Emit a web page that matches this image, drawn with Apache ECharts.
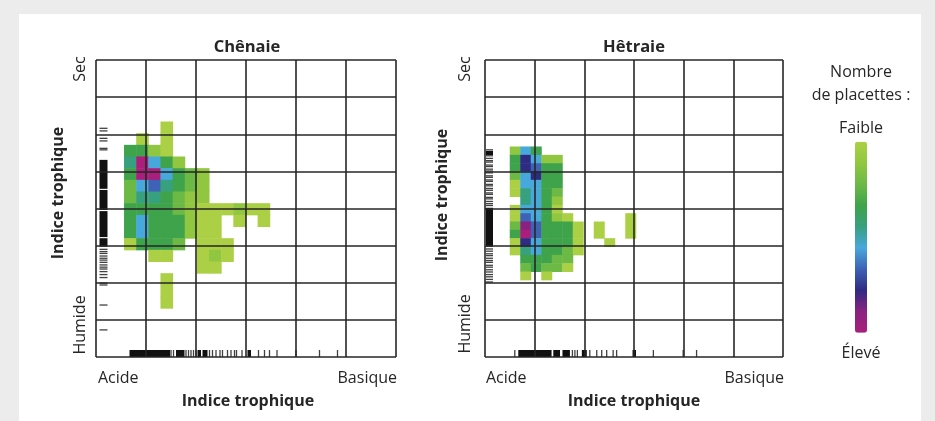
<!DOCTYPE html>
<html><head><meta charset="utf-8">
<script src="https://cdn.jsdelivr.net/npm/echarts@6/dist/echarts.min.js"></script>
<style>
html,body{margin:0;padding:0;background:#ececec;width:935px;height:421px;overflow:hidden;}
#panel{position:absolute;left:19px;top:14px;width:902px;height:410px;background:#fff;}
#c{position:absolute;left:0;top:0;width:935px;height:421px;}
</style>
</head><body><div id="panel"></div><div id="c"></div>
<script>
// ---- data ----
const panelTitles = ['Chênaie', 'Hêtraie'];
const xEndLabels = ['Acide', 'Basique'];
const yEndLabels = ['Sec', 'Humide'];
const axisTitle = 'Indice trophique';
const legendTitle = ['Nombre', 'de placettes :'];
const legendEnds = ['Faible', 'Élevé'];

// heatmap cells: [column, row (from top), level 1=faible .. 10=élevé]
const chenaieCells = [
  [5,5,1],
  [3,6,1],[5,6,1],
  [2,7,4],[3,7,4],[4,7,2],[5,7,1],
  [2,8,5],[3,8,10],[4,8,6],[5,8,4],[6,8,2],
  [2,9,4],[3,9,10],[4,9,10],[5,9,6],[6,9,4],[7,9,3],[8,9,2],
  [2,10,3],[3,10,6],[4,10,7],[5,10,5],[6,10,4],[7,10,3],[8,10,2],
  [2,11,3],[3,11,5],[4,11,5],[5,11,4],[6,11,3],[7,11,2],[8,11,2],
  [2,12,4],[3,12,4],[4,12,4],[5,12,4],[6,12,3],[7,12,2],[8,12,1],[9,12,1],[10,12,1],[11,12,2],[12,12,1],[13,12,1],
  [2,13,4],[3,13,6],[4,13,4],[5,13,4],[6,13,4],[7,13,2],[8,13,1],[9,13,1],[11,13,1],[13,13,1],
  [2,14,4],[3,14,6],[4,14,4],[5,14,4],[6,14,4],[7,14,2],[8,14,1],[9,14,1],
  [2,15,1],[3,15,4],[4,15,4],[5,15,4],[6,15,3],[8,15,1],[9,15,1],[10,15,1],
  [4,16,1],[5,16,1],[8,16,1],[9,16,2],[10,16,1],
  [8,17,1],[9,17,1],
  [5,18,1],[5,19,1],[5,20,1]
];
const hetraieCells = [
  [2,10,2],[3,10,6],[4,10,4],
  [2,11,4],[3,11,8],[4,11,6],[5,11,2],[6,11,2],
  [2,12,4],[3,12,8],[4,12,7],[5,12,4],[6,12,4],
  [2,13,3],[3,13,6],[4,13,8],[5,13,4],[6,13,4],
  [2,14,1],[3,14,6],[4,14,6],[5,14,4],[6,14,4],
  [2,15,1],[3,15,5],[4,15,6],[5,15,4],[6,15,3],
  [3,16,5],[4,16,6],[5,16,4],[6,16,2],
  [2,17,1],[3,17,6],[4,17,6],[5,17,4],[6,17,1],
  [2,18,1],[3,18,7],[4,18,6],[5,18,4],[6,18,2],[7,18,1],[13,18,1],
  [2,19,3],[3,19,9],[4,19,7],[5,19,4],[6,19,4],[7,19,4],[8,19,1],[10,19,1],[13,19,1],
  [2,20,4],[3,20,10],[4,20,7],[5,20,4],[6,20,4],[7,20,4],[8,20,1],[10,20,1],[13,20,1],
  [2,21,1],[3,21,8],[4,21,6],[5,21,4],[6,21,4],[7,21,4],[8,21,1],[11,21,1],
  [2,22,1],[3,22,5],[4,22,6],[5,22,4],[6,22,4],[7,22,3],[8,22,1],
  [3,23,4],[4,23,4],[5,23,4],[6,23,3],[7,23,3],
  [3,24,3],[4,24,4],[5,24,3],[6,24,3],[7,24,1],
  [3,25,1],[5,25,1]
];
const chenaieColCount = 24, chenaieRowCount = 25;
const hetraieColCount = 28, hetraieRowCount = 35;

// marginal rugs (box units: x 0..6 acide->basique, y 0..8 humide->sec)
const chenaieXTicks = [1.50,1.55,1.80,1.85,1.90,1.95,2.00,2.27,2.33,2.40,2.48,2.53,2.63,2.70,2.77,2.81,2.92,3.25,3.37,3.47,3.62,4.00,4.47,4.83];
const chenaieXBlocks = [[0.67,1.48],[1.60,1.77],[2.03,2.10],[2.13,2.23],[3.03,3.10]];
const chenaieYTicks = [6.16,6.09,5.89,5.82,5.62,5.58,2.90,2.84,2.79,2.72,2.66,2.61,2.55,2.48,2.42,2.37,2.30,2.22,2.14,1.99,1.94,1.40,0.73];
const chenaieYBlocks = [[4.53,5.31],[3.96,4.50],[3.23,3.93],[2.97,3.20]];
const hetraieXTicks = [0.60,1.76,1.81,1.86,2.11,2.25,2.35,2.45,2.58,2.65,3.39,3.99,4.26];
const hetraieXBlocks = [[0.67,1.34],[1.375,1.51],[1.56,1.71],[1.95,2.05],[2.97,3.04]];
const hetraieYTicks = [5.58,5.53,5.46,5.42,5.35,5.29,5.25,5.17,5.13,5.06,5.01,4.96,4.88,4.84,4.77,4.73,4.65,4.61,4.54,4.49,4.42,4.38,4.30,4.26,4.19,4.13,4.08,2.91,2.85,2.78,2.73,2.66,2.60,2.55,2.47,2.42,2.35,2.29,2.22,2.16,2.09,2.02];
const hetraieYBlocks = [[5.44,5.55],[2.97,4.02]];

const levelColors = ['#acd045','#91c740','#6cb946','#3ea34a','#37a07e','#47a8dc','#3d62b6','#2e2b82','#8a2181','#a91f7b'];

// ---- chart ----
const FONT = '"Open Sans", "DejaVu Sans", sans-serif';
const INK = '#262626';
const LINE = {color:'#262626', width:1.6};

function boxX(g){ return {type:'value', gridIndex:g, min:0, max:6, interval:1, z:10,
  axisLabel:{show:false}, axisTick:{show:false}, axisLine:{show:false},
  splitLine:{show:true, lineStyle:LINE}}; }
function boxY(g){ return {type:'value', gridIndex:g, min:0, max:8, interval:1, z:10,
  axisLabel:{show:false}, axisTick:{show:false}, axisLine:{show:false},
  splitLine:{show:true, lineStyle:LINE}}; }
function idx(n){ return Array.from({length:n}, (_, i) => String(i)); }
function heatX(g, n){ return {type:'category', gridIndex:g, data:idx(n), show:false}; }
function heatY(g, n){ return {type:'category', gridIndex:g, data:idx(n), inverse:true, show:false}; }

function xTickSeries(ai, data){ return {type:'scatter', xAxisIndex:ai, yAxisIndex:ai, z:6, silent:true,
  symbol:'rect', symbolSize:[1.3,7], symbolOffset:[0,-3.5], itemStyle:{color:'#111'},
  data:data.map(v => [v, 0])}; }
function yTickSeries(ai, data, off, w){ return {type:'scatter', xAxisIndex:ai, yAxisIndex:ai, z:6, silent:true,
  symbol:'rect', symbolSize:[w,1.3], symbolOffset:[off,0], itemStyle:{color:'#111'},
  data:data.map(v => [0, v])}; }
function xBlockSeries(ai, data){ return {type:'custom', xAxisIndex:ai, yAxisIndex:ai, z:6, silent:true,
  renderItem:(p, api) => { const a = api.coord([api.value(0), 0]); const b = api.coord([api.value(1), 0]);
    return {type:'rect', shape:{x:a[0], y:a[1]-7, width:b[0]-a[0], height:7}, style:{fill:'#111'}}; },
  data:data}; }
function yBlockSeries(ai, data, off, w){ return {type:'custom', xAxisIndex:ai, yAxisIndex:ai, z:6, silent:true,
  renderItem:(p, api) => { const a = api.coord([0, api.value(1)]); const b = api.coord([0, api.value(0)]);
    return {type:'rect', shape:{x:a[0]+off-w/2, y:a[1], width:w, height:b[1]-a[1]}, style:{fill:'#111'}}; },
  data:data}; }

function txt(text, x, y, size, bold, align, rot){
  return {type:'text', x:x, y:y, rotation:rot||0, z:100, silent:true,
    style:{text:text, fill:INK, font:(bold?'bold ':'')+size+'px '+FONT,
      align:align||'center', textAlign:align||'center', verticalAlign:'middle', textVerticalAlign:'middle'}};
}

const option = {
  animation:false,
  backgroundColor:'transparent',
  grid:[
    {left:96, top:60, width:300, height:297},
    {left:485, top:60, width:298, height:297},
    {left:100, top:63.4, width:291.4, height:291.7},
    {left:489, top:63.4, width:294, height:291.7}
  ],
  xAxis:[boxX(0), boxX(1), heatX(2, chenaieColCount), heatX(3, hetraieColCount)],
  yAxis:[boxY(0), boxY(1), heatY(2, chenaieRowCount), heatY(3, hetraieRowCount)],
  visualMap:{type:'continuous', min:1, max:10, dimension:2, seriesIndex:[0,1],
    orient:'vertical', inverse:true, calculable:false, padding:0,
    left:855, top:141.7, itemWidth:12, itemHeight:191,
    inRange:{color:levelColors}, textStyle:{color:'transparent'}},
  series:[
    {type:'heatmap', xAxisIndex:2, yAxisIndex:2, z:1, data:chenaieCells, emphasis:{disabled:true}, silent:true},
    {type:'heatmap', xAxisIndex:3, yAxisIndex:3, z:1, data:hetraieCells, emphasis:{disabled:true}, silent:true},
    xTickSeries(0, chenaieXTicks), xBlockSeries(0, chenaieXBlocks),
    yTickSeries(0, chenaieYTicks, 7.5, 8), yBlockSeries(0, chenaieYBlocks, 7.5, 8),
    xTickSeries(1, hetraieXTicks), xBlockSeries(1, hetraieXBlocks),
    yTickSeries(1, hetraieYTicks, 4.5, 7), yBlockSeries(1, hetraieYBlocks, 4.5, 7)
  ],
  graphic:[
    txt(panelTitles[0], 247, 47, 16.5, true),
    txt(panelTitles[1], 634, 47, 16.5, true),
    txt(yEndLabels[0], 80, 69, 16, false, 'center', Math.PI/2),
    txt(axisTitle, 58, 193, 16, true, 'center', Math.PI/2),
    txt(yEndLabels[1], 80, 325, 16, false, 'center', Math.PI/2),
    txt(yEndLabels[0], 465, 69, 16, false, 'center', Math.PI/2),
    txt(axisTitle, 442, 195, 16, true, 'center', Math.PI/2),
    txt(yEndLabels[1], 465, 324, 16, false, 'center', Math.PI/2),
    txt(xEndLabels[0], 98, 378, 16, false, 'left'),
    txt(xEndLabels[1], 397, 378, 16, false, 'right'),
    txt(axisTitle, 248, 401, 16, true),
    txt(xEndLabels[0], 486, 378, 16, false, 'left'),
    txt(xEndLabels[1], 784, 378, 16, false, 'right'),
    txt(axisTitle, 634, 401, 16, true),
    txt(legendTitle[0], 861, 72, 16, false),
    txt(legendTitle[1], 861, 95, 16, false),
    txt(legendEnds[0], 861, 128, 16, false),
    txt(legendEnds[1], 861, 353, 16, false)
  ]
};
const chart = echarts.init(document.getElementById('c'), null, {renderer:'canvas'});
chart.setOption(option);
</script></body></html>
